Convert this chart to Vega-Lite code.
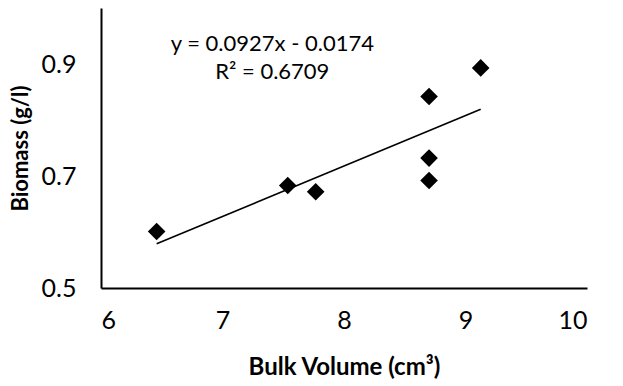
{
  "$schema": "https://vega.github.io/schema/vega-lite/v6.json",
  "width": 486,
  "height": 280,
  "autosize": {"type": "none"},
  "padding": {"left": 101, "top": 8, "right": 36, "bottom": 98},
  "background": "white",
  "config": {
    "view": {"stroke": null},
    "font": "Lato",
    "axis": {"grid": false, "ticks": false, "domainColor": "black", "domainWidth": 2, "labelColor": "black", "titleColor": "black", "labelFont": "Lato", "titleFont": "Lato"}
  },
  "datasets": {
    "points": [
      {"volume": 6.458, "biomass": 0.601},
      {"volume": 7.537, "biomass": 0.683},
      {"volume": 7.767, "biomass": 0.672},
      {"volume": 8.70, "biomass": 0.842},
      {"volume": 8.70, "biomass": 0.732},
      {"volume": 8.70, "biomass": 0.692},
      {"volume": 9.125, "biomass": 0.893}
    ],
    "trend": [
      {"volume": 6.458, "biomass": 0.579},
      {"volume": 9.125, "biomass": 0.819}
    ],
    "note": [
      {"label": "y = 0.0927x - 0.0174\nR² = 0.6709", "volume": 7.41, "biomass": 0.913}
    ]
  },
  "layer": [
    {
      "data": {"name": "trend"},
      "mark": {"type": "line", "color": "black", "strokeWidth": 1.6},
      "encoding": {
        "x": {"field": "volume", "type": "quantitative", "scale": {"domain": [6, 10], "nice": false, "zero": false},
              "axis": {"values": [6, 7, 8, 9, 10], "format": "d", "labelFontSize": 25, "labelPadding": 20, "labelBaseline": "top", "title": "Bulk Volume (cm³)", "titleFontSize": 24, "titleFontWeight": "bold", "titlePadding": 22}},
        "y": {"field": "biomass", "type": "quantitative", "scale": {"domain": [0.5, 1.0], "nice": false, "zero": false},
              "axis": {"values": [0.5, 0.7, 0.9], "format": ".1f", "labelFontSize": 25, "labelPadding": 25, "title": "Biomass (g/l)", "titleFontSize": 22, "titleFontWeight": "bold", "titlePadding": 9}}
      }
    },
    {
      "data": {"name": "points"},
      "mark": {"type": "point", "shape": "diamond", "filled": true, "color": "black", "size": 310, "opacity": 1},
      "encoding": {
        "x": {"field": "volume", "type": "quantitative"},
        "y": {"field": "biomass", "type": "quantitative"}
      }
    },
    {
      "data": {"name": "note"},
      "mark": {"type": "text", "lineBreak": "\n", "lineHeight": 28, "fontSize": 22, "align": "center", "baseline": "middle", "color": "black", "font": "Lato", "dy": -13},
      "encoding": {
        "text": {"field": "label"},
        "x": {"field": "volume", "type": "quantitative"},
        "y": {"field": "biomass", "type": "quantitative"}
      }
    }
  ]
}
